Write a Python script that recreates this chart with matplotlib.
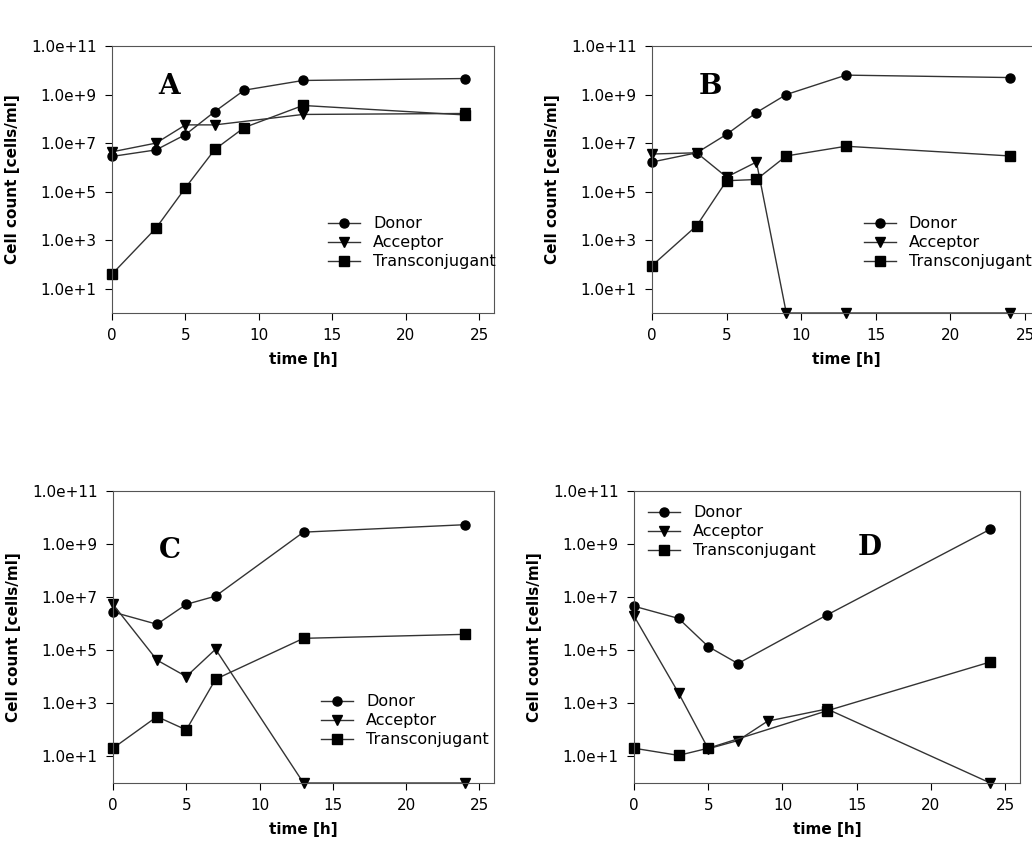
import matplotlib
matplotlib.use("Agg")
import matplotlib.pyplot as plt
from matplotlib.ticker import FixedLocator, NullLocator

# log10 cell counts; 0 means "below detection" (plotted on the axis floor)
t_a = [0, 3, 5, 7, 9, 13, 24]
donor_a = [6.45, 6.72, 7.35, 8.3, 9.18, 9.58, 9.66]
accept_a_t = [0, 3, 5, 7, 13, 24]
accept_a = [6.64, 7.0, 7.75, 7.75, 8.18, 8.22]
trans_a = [1.6, 3.5, 5.16, 6.74, 7.64, 8.55, 8.16]

t_b = [0, 3, 5, 7, 9, 13, 24]
donor_b = [6.22, 6.6, 7.36, 8.26, 9.0, 9.8, 9.7]
accept_b = [6.55, 6.6, 5.6, 6.22, 0, 0, 0]
trans_b = [1.95, 3.6, 5.45, 5.5, 6.47, 6.87, 6.47]

t_c = [0, 3, 5, 7, 13, 24]
donor_c = [6.44, 5.98, 6.73, 7.04, 9.45, 9.73]
accept_c = [6.73, 4.63, 4.01, 5.04, 0, 0]
trans_c = [1.31, 2.5, 2.0, 3.91, 5.45, 5.6]

t_d_donor = [0, 3, 5, 7, 13, 24]
donor_d = [6.66, 6.2, 5.14, 4.5, 6.33, 9.56]
t_d_acc = [0, 3, 5, 7, 9, 13, 24]
accept_d = [6.29, 3.39, 1.29, 1.6, 2.33, 2.79, 0]
t_d_trans = [0, 3, 5, 13, 24]
trans_d = [1.31, 1.04, 1.31, 2.72, 4.56]

fig = plt.figure(figsize=(10.32, 8.52), dpi=100)
W, H = 1032, 852


def make_ax(left, top, right, bottom):
    return fig.add_axes([left / W, 1 - bottom / H, (right - left) / W, (bottom - top) / H])


def style(ax, letter, letter_pos, legend_loc):
    ax.set_yscale("log")
    ax.set_ylim(1, 1e11)
    ax.set_xlim(0, 26)
    ax.yaxis.set_major_locator(FixedLocator([1e1, 1e3, 1e5, 1e7, 1e9, 1e11]))
    ax.yaxis.set_minor_locator(NullLocator())
    ax.set_yticklabels(["1.0e+1", "1.0e+3", "1.0e+5", "1.0e+7", "1.0e+9", "1.0e+11"])
    ax.set_xticks([0, 5, 10, 15, 20, 25])
    ax.tick_params(labelsize=11, length=5, pad=6)
    ax.set_xlabel("time [h]", fontweight="bold", fontsize=11, labelpad=6)
    ax.set_ylabel("Cell count [cells/ml]", fontweight="bold", fontsize=11, labelpad=8)
    for s in ax.spines.values():
        s.set_color("#555555")
    ax.text(letter_pos[0], letter_pos[1], letter, transform=ax.transAxes, family="DejaVu Serif",
            fontweight="bold", fontsize=20)
    ax.legend(loc=legend_loc, frameon=False, fontsize=11.5, handlelength=2.0, labelspacing=0.25)


def series(ax, t, y, marker, label):
    ax.plot(t, [10 ** v for v in y], color="#333333", marker=marker, markersize=6.5,
            markerfacecolor="black", markeredgecolor="black", linewidth=1, label=label, clip_on=False)


ax = make_ax(112, 46, 494, 313)
series(ax, t_a, donor_a, "o", "Donor")
series(ax, accept_a_t, accept_a, "v", "Acceptor")
series(ax, t_a, trans_a, "s", "Transconjugant")
style(ax, "A", (0.12, 0.82), (0.55, 0.14))

ax = make_ax(652, 46, 1040, 313)
series(ax, t_b, donor_b, "o", "Donor")
series(ax, t_b, accept_b, "v", "Acceptor")
series(ax, t_b, trans_b, "s", "Transconjugant")
style(ax, "B", (0.12, 0.82), (0.53, 0.14))

ax = make_ax(113, 491, 494, 783)
series(ax, t_c, donor_c, "o", "Donor")
series(ax, t_c, accept_c, "v", "Acceptor")
series(ax, t_c, trans_c, "s", "Transconjugant")
style(ax, "C", (0.12, 0.77), (0.53, 0.1))

ax = make_ax(634, 491, 1020, 783)
series(ax, t_d_donor, donor_d, "o", "Donor")
series(ax, t_d_acc, accept_d, "v", "Acceptor")
series(ax, t_d_trans, trans_d, "s", "Transconjugant")
style(ax, "D", (0.58, 0.78), "upper left")

fig.savefig("out.png", dpi=100)
